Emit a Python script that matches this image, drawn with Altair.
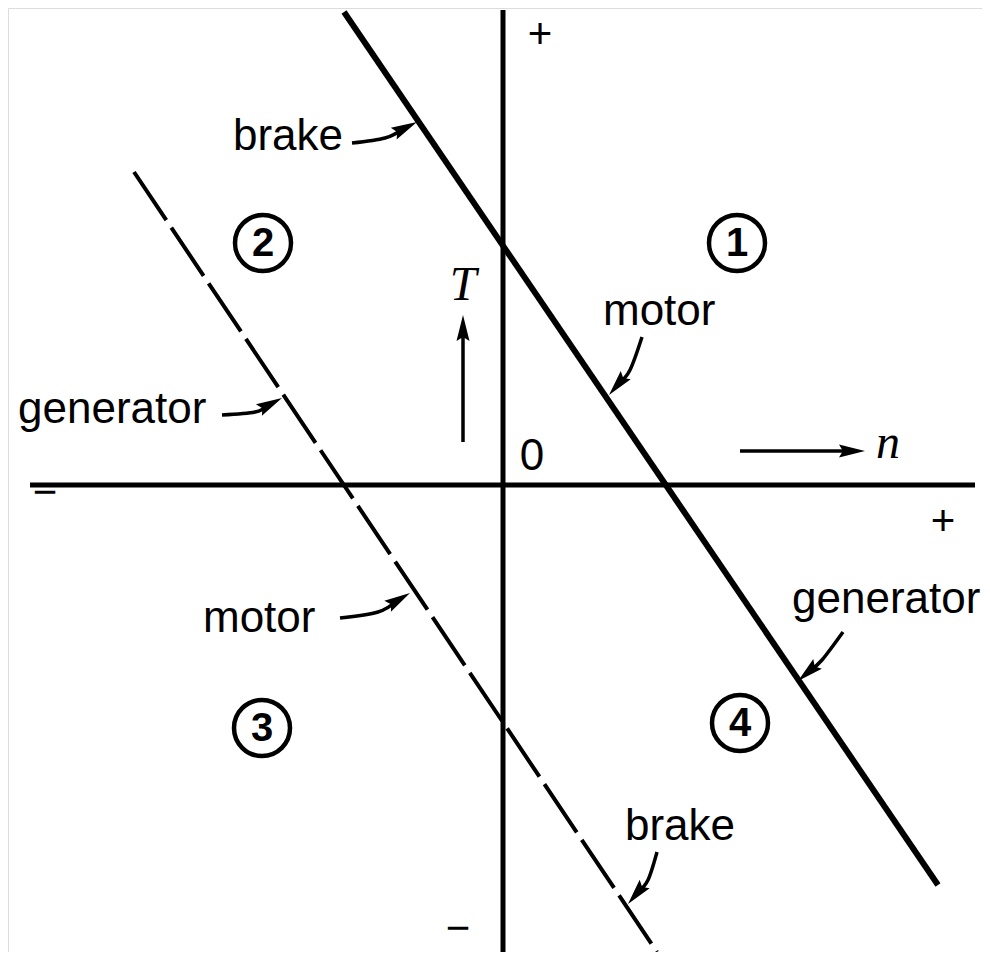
import altair as alt
import pandas as pd
import numpy as np

# Coordinates: n (speed) horizontal, T (torque) vertical, origin at axis crossing
X_DOM = [-495, 479]
Y_DOM = [-467, 477]

axis_n = [-473, 472]          # horizontal axis extent
axis_T = [475, -470]          # vertical axis extent

solid_n = [-159, 435]
solid_T = [473, -400]
dashed_n = [-369, 154]
dashed_T = [313, -467]

# curved label arrows (n, T) points, last point = tip
arrows = {
    "brake_top":   [(-151, 342), (-118, 347), (-86, 363)],
    "gen_left":    [(-281, 70), (-248, 73), (-221, 87)],
    "motor_left":  [(-163, -133), (-125, -127), (-93, -108)],
    "motor_right": [(139, 148), (127, 115), (106, 90)],
    "gen_right":   [(340, -147), (319, -175), (295, -196)],
    "brake_bot":   [(154, -367), (145, -395), (125, -419)],
}
axis_arrows = {
    "T_arrow": [(-40, 43), (-40, 170)],
    "n_arrow": [(237, 34), (362, 34)],
}

label_text = ["brake", "generator", "motor", "motor", "generator", "brake"]
label_n = [-270, -485, -300, 100, 289, 122]
label_T = [335, 62, -147, 160, -128, -355]

quad_num = ["1", "2", "3", "4"]
quad_n = [234, -240, -241, 237]
quad_T = [242, 242, -243, -238]

sign_text = ["+", "+", "\u2212", "\u2212"]
sign_n = [37, 440, -458, -45]
sign_T = [450, -37, -8, -444]

xs = alt.Scale(domain=X_DOM, nice=False, zero=False)
ys = alt.Scale(domain=Y_DOM, nice=False, zero=False)
X = lambda f: alt.X(f, type="quantitative", scale=xs, axis=None)
Y = lambda f: alt.Y(f, type="quantitative", scale=ys, axis=None)

segs = pd.DataFrame([
    dict(x=axis_n[0], y=0, x2=axis_n[1], y2=0),
    dict(x=0, y=axis_T[0], x2=0, y2=axis_T[1]),
])
axes_layer = alt.Chart(segs).mark_rule(color="black", strokeWidth=5).encode(
    x=X("x"), y=Y("y"), x2="x2", y2="y2")

solid = alt.Chart(pd.DataFrame(dict(x=[solid_n[0]], y=[solid_T[0]], x2=[solid_n[1]], y2=[solid_T[1]]))).mark_rule(
    color="black", strokeWidth=6).encode(x=X("x"), y=Y("y"), x2="x2", y2="y2")
dashed = alt.Chart(pd.DataFrame(dict(x=[dashed_n[0]], y=[dashed_T[0]], x2=[dashed_n[1]], y2=[dashed_T[1]]))).mark_rule(
    color="black", strokeWidth=4, strokeDash=[58, 9]).encode(x=X("x"), y=Y("y"), x2="x2", y2="y2")

HEAD_L = 26.0
rows, heads = [], []
for name, pts in {**arrows, **axis_arrows}.items():
    pts = [np.array(p, dtype=float) for p in pts]
    tip, prev = pts[-1], pts[-2]
    d = tip - prev
    u = d / np.linalg.norm(d)
    shaft = pts[:-1] + [tip - u * HEAD_L * 0.6]
    for i, p in enumerate(shaft):
        rows.append(dict(g=name, o=i, x=p[0], y=p[1]))
    c = tip - u * HEAD_L / 2
    ang = (np.degrees(np.arctan2(u[0], u[1])) + 360) % 360
    heads.append(dict(x=c[0], y=c[1], ang=ang))

shafts = alt.Chart(pd.DataFrame(rows)).mark_line(color="black", strokeWidth=3.5, interpolate="cardinal").encode(
    x=X("x"), y=Y("y"), detail="g:N", order="o:Q")
heads_layer = alt.Chart(pd.DataFrame(heads)).mark_point(
    shape="M0,-1L0.5,1L0,0.7L-0.5,1Z", filled=True, color="black", opacity=1,
    size=HEAD_L ** 2, strokeWidth=0).encode(
    x=X("x"), y=Y("y"), angle=alt.Angle("ang:Q", scale=None))

labels = alt.Chart(pd.DataFrame(dict(t=label_text, x=label_n, y=label_T))).mark_text(
    font="Liberation Sans", fontSize=44, align="left", baseline="alphabetic", color="black").encode(
    x=X("x"), y=Y("y"), text="t:N")

circles = alt.Chart(pd.DataFrame(dict(t=quad_num, x=quad_n, y=quad_T))).mark_point(
    shape="circle", size=3136, filled=False, color="black", strokeWidth=4.5, opacity=1).encode(
    x=X("x"), y=Y("y"))
nums = alt.Chart(pd.DataFrame(dict(t=quad_num, x=quad_n, y=quad_T))).mark_text(
    font="Liberation Sans", fontSize=40, fontWeight="bold", align="center", baseline="middle", color="black", dy=1).encode(
    x=X("x"), y=Y("y"), text="t:N")

signs = alt.Chart(pd.DataFrame(dict(t=sign_text, x=sign_n, y=sign_T))).mark_text(
    font="Liberation Sans", fontSize=42, align="center", baseline="middle", color="black").encode(
    x=X("x"), y=Y("y"), text="t:N")

zero = alt.Chart(pd.DataFrame(dict(t=["0"], x=[29], y=[15]))).mark_text(
    font="Liberation Sans", fontSize=44, align="center", baseline="alphabetic", color="black").encode(
    x=X("x"), y=Y("y"), text="t:N")

sym = alt.Chart(pd.DataFrame(dict(t=["T", "n"], x=[-40, 385], y=[185, 27]))).mark_text(
    font="Liberation Serif", fontSize=48, fontStyle="italic", align="center", baseline="alphabetic", color="black").encode(
    x=X("x"), y=Y("y"), text="t:N")

chart = alt.layer(axes_layer, solid, dashed, shafts, heads_layer, labels, circles, nums, signs, zero, sym).properties(
    width=974, height=944, autosize=alt.AutoSizeParams(type="none"), padding=0
).configure_view(stroke=None, strokeWidth=0).configure(background="white")

chart.save("out.html", embed_options={"renderer": "svg", "actions": False})
